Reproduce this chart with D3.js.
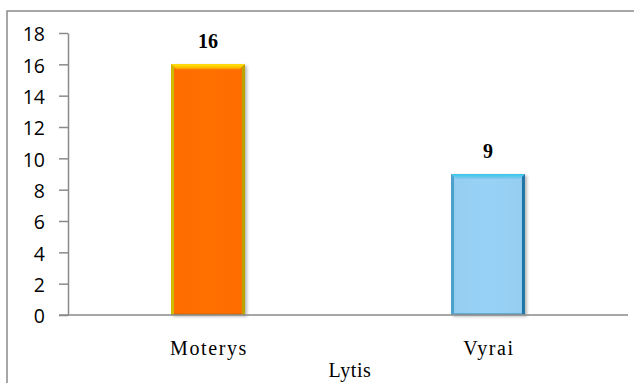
<!DOCTYPE html>
<html>
<head>
<meta charset="utf-8">
<script src="https://cdn.jsdelivr.net/npm/d3@7"></script>
<style>
  html, body { margin: 0; padding: 0; background: #fff; }
  svg { display: block; }
</style>
</head>
<body>
<svg id="chart" width="634" height="383"></svg>
<script>
// Chart data
const categories = ["Moterys", "Vyrai"];
const values = [16, 9];
const yTicks = [0, 2, 4, 6, 8, 10, 12, 14, 16, 18];
const xTitle = "Lytis";

// Bar styling per category: face, bevel top, left edge, right edge
const barStyles = [
  { face: "#ff6c00", topHi: "#fff000", topLo: "#ff9a00", left: "#cdbb00", right: "#b9a500", bottom: "#d26a00" },
  { face: "#94cdf0", topHi: "#36c6ee", topLo: "#86c9ec", left: "#4aa2cc", right: "#1f76a6", bottom: "#4a8fb6" }
];

const svg = d3.select("#chart");
const plot = { left: 68, right: 628, top: 33, bottom: 315 };

// Outer frame (right and bottom edges run past the visible area)
svg.append("rect")
  .attr("x", 7).attr("y", 11)
  .attr("width", 700).attr("height", 500)
  .attr("fill", "none")
  .attr("stroke", "#8a8a8a")
  .attr("stroke-width", 1.5);

const x = d3.scaleBand()
  .domain(categories)
  .range([plot.left, plot.right])
  .paddingInner(0.736)
  .paddingOuter(0.368);

const y = d3.scaleLinear()
  .domain([0, 18])
  .range([plot.bottom, plot.top]);

const defs = svg.append("defs");
const shadow = defs.append("filter").attr("id", "shadow")
  .attr("x", "-20%").attr("y", "-10%").attr("width", "140%").attr("height", "130%");
shadow.append("feDropShadow")
  .attr("dx", 2).attr("dy", 1.5).attr("stdDeviation", 1.6)
  .attr("flood-color", "#000").attr("flood-opacity", 0.28);

barStyles.forEach((s, i) => {
  const g = defs.append("linearGradient").attr("id", "top" + i)
    .attr("x1", 0).attr("y1", 0).attr("x2", 0).attr("y2", 1);
  g.append("stop").attr("offset", "0%").attr("stop-color", s.topHi);
  g.append("stop").attr("offset", "100%").attr("stop-color", s.topLo);
  const f = defs.append("linearGradient").attr("id", "face" + i)
    .attr("x1", 0).attr("y1", 0).attr("x2", 1).attr("y2", 0);
  f.append("stop").attr("offset", "0%").attr("stop-color", s.face);
  f.append("stop").attr("offset", "50%").attr("stop-color", d3.color(s.face).brighter(0.08));
  f.append("stop").attr("offset", "100%").attr("stop-color", s.face);
});

// Y axis
const yAxis = svg.append("g")
  .attr("transform", `translate(${plot.left},0)`)
  .call(d3.axisLeft(y).tickValues(yTicks).tickSize(9).tickSizeOuter(0).tickPadding(14));
yAxis.select(".domain").attr("stroke", "#8a8a8a").attr("stroke-width", 1.5);
yAxis.selectAll(".tick line").attr("stroke", "#8a8a8a").attr("stroke-width", 1.5);
yAxis.selectAll(".tick text")
  .attr("font-family", "'Open Sans', 'Noto Sans', sans-serif")
  .attr("font-size", 19.5)
  .attr("fill", "#000")
  .attr("dy", "0.40em");

// Bars with bevelled edges
const bev = 5, edge = 3;
const bars = svg.append("g").selectAll("g.bar")
  .data(categories.map((c, i) => ({ c, v: values[i], i })))
  .join("g").attr("class", "bar");

bars.append("rect")
  .attr("x", d => x(d.c))
  .attr("y", d => y(d.v))
  .attr("width", x.bandwidth())
  .attr("height", d => y(0) - y(d.v))
  .attr("fill", d => `url(#face${d.i})`)
  .attr("filter", "url(#shadow)");

bars.append("polygon")
  .attr("points", d => {
    const x0 = x(d.c), x1 = x0 + x.bandwidth(), y0 = y(d.v);
    return [[x0, y0], [x1, y0], [x1 - bev, y0 + bev], [x0 + bev, y0 + bev]].join(" ");
  })
  .attr("fill", d => `url(#top${d.i})`);

bars.append("polygon")
  .attr("points", d => {
    const x0 = x(d.c), y0 = y(d.v), yb = y(0);
    return [[x0, y0], [x0 + edge, y0 + edge], [x0 + edge, yb - 1], [x0, yb]].join(" ");
  })
  .attr("fill", d => barStyles[d.i].left);

bars.append("polygon")
  .attr("points", d => {
    const x1 = x(d.c) + x.bandwidth(), y0 = y(d.v), yb = y(0);
    return [[x1, y0], [x1 - edge, y0 + edge], [x1 - edge, yb - 1], [x1, yb]].join(" ");
  })
  .attr("fill", d => barStyles[d.i].right);

bars.append("rect")
  .attr("x", d => x(d.c) + edge)
  .attr("y", y(0) - 2)
  .attr("width", x.bandwidth() - 2 * edge)
  .attr("height", 2)
  .attr("fill", d => barStyles[d.i].bottom)
  .attr("opacity", 0.6);

// Value labels
bars.append("text")
  .attr("x", d => x(d.c) + x.bandwidth() / 2)
  .attr("y", d => y(d.v) - 16)
  .attr("text-anchor", "middle")
  .attr("font-family", "'Liberation Serif', 'Times New Roman', serif")
  .attr("font-weight", "bold")
  .attr("font-size", 20)
  .attr("fill", "#000")
  .text(d => d.v);

// X axis line
svg.append("line")
  .attr("x1", 59).attr("x2", plot.right)
  .attr("y1", y(0)).attr("y2", y(0))
  .attr("stroke", "#8a8a8a").attr("stroke-width", 1.5);

// Category labels
svg.append("g").selectAll("text")
  .data(categories)
  .join("text")
  .attr("x", d => x(d) + x.bandwidth() / 2 + 1)
  .attr("y", 355)
  .attr("text-anchor", "middle")
  .attr("font-family", "'Liberation Serif', 'Times New Roman', serif")
  .attr("font-size", 20)
  .attr("letter-spacing", 1.6)
  .attr("fill", "#000")
  .text(d => d);

// Axis title
svg.append("text")
  .attr("x", (plot.left + plot.right) / 2 + 2)
  .attr("y", 377)
  .attr("text-anchor", "middle")
  .attr("font-family", "'Liberation Serif', 'Times New Roman', serif")
  .attr("font-size", 20)
  .attr("letter-spacing", 0.6)
  .attr("fill", "#000")
  .text(xTitle);
</script>
</body>
</html>
